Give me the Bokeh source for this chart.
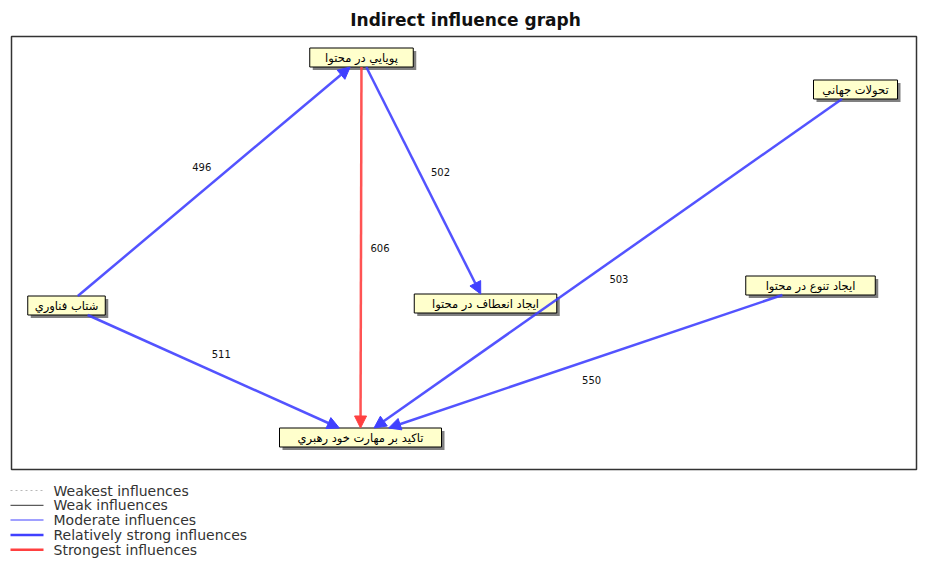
import math
from bokeh.plotting import figure
from bokeh.models import Range1d, ColumnDataSource, Arrow, NormalHead
from bokeh.core.properties import value
from bokeh.embed import file_html
from bokeh.resources import INLINE

# ---------------- data ----------------
title_text = "Indirect influence graph"
node_names = ["پویایي در محتوا", "تحولات جهاني", "شتاب فناوري",
              "ایجاد انعطاف در محتوا", "ایجاد تنوع در محتوا", "تاکید بر مهارت خود رهبري"]
node_x = [361, 855, 66, 485, 810, 360]
node_y = [57, 89, 305, 303, 285, 437]
edge_source = [2, 0, 0, 1, 2, 4]
edge_target = [0, 5, 3, 5, 5, 5]
edge_weight = [496, 606, 502, 503, 511, 550]
edge_class = [3, 4, 3, 3, 3, 3]
legend_labels = ["Weakest influences", "Weak influences", "Moderate influences",
                 "Relatively strong influences", "Strongest influences"]

# ---------------- styles ----------------
class_color = ["#b8b8b8", "#333333", "#8080ff", "#4040ff", "#ff4040"]
class_width = [1, 1, 1.5, 2.5, 2.5]
class_dash = ["2 3", "solid", "solid", "solid", "solid"]

W, H = 918, 560
p = figure(width=W, height=H, output_backend="svg", toolbar_location=None,
           x_range=Range1d(0, W), y_range=Range1d(H, 0),
           x_axis_type=None, y_axis_type=None, min_border=0,
           outline_line_color=None, background_fill_color="white")
p.grid.visible = False

# title
p.text(x=[465], y=[19], text=[title_text], text_font=value("DejaVu Sans"),
       text_font_size="17px", text_font_style="bold", text_align="center",
       text_baseline="middle", text_color="#111111")

# frame
p.quad(left=[11], right=[916], top=[36], bottom=[469], fill_color=None,
       line_color="#333333", line_width=1.5)

# node box sizes
hh = 9.5
hw = [len(n) * 3.25 + 3 for n in node_names]

# edges
lab_x, lab_y, lab_t = [], [], []
for s, t, w, c in zip(edge_source, edge_target, edge_weight, edge_class):
    x0, y0, x1, y1 = node_x[s], node_y[s], node_x[t], node_y[t]
    dx, dy = x1 - x0, y1 - y0
    ts = min(hw[s] / abs(dx) if dx else 1e9, hh / abs(dy) if dy else 1e9)
    tt = min(hw[t] / abs(dx) if dx else 1e9, hh / abs(dy) if dy else 1e9)
    xs, ys = x0 + ts * dx, y0 + ts * dy
    xe, ye = x1 - tt * dx, y1 - tt * dy
    src = ColumnDataSource(dict(x0=[xs], y0=[ys], x1=[xe], y1=[ye]))
    p.add_layout(Arrow(x_start="x0", y_start="y0", x_end="x1", y_end="y1", source=src,
                       line_color=class_color[c], line_width=class_width[c], line_alpha=0.9,
                       end=NormalHead(size=12, fill_color=class_color[c],
                                      line_color=class_color[c], line_width=1)))
    L = math.hypot(dx, dy)
    px, py = dy / L, -dx / L
    lab_x.append((x0 + x1) / 2 + 19 * px)
    lab_y.append((y0 + y1) / 2 + 19 * py)
    lab_t.append(str(w))

p.text(x=lab_x, y=lab_y, text=lab_t, text_font=value("DejaVu Sans"),
       text_font_size="10px", text_align="center", text_baseline="middle",
       text_color="#111111")

# node boxes with shadow
left = [x - w for x, w in zip(node_x, hw)]
right = [x + w for x, w in zip(node_x, hw)]
top = [y - hh for y in node_y]
bot = [y + hh for y in node_y]
p.quad(left=[v + 3 for v in left], right=[v + 3 for v in right],
       top=[v + 3 for v in top], bottom=[v + 3 for v in bot],
       fill_color="#555555", fill_alpha=0.75, line_color=None)
p.quad(left=left, right=right, top=top, bottom=bot,
       fill_color="#ffffcc", line_color="#000000", line_width=1)
p.text(x=node_x, y=[y + 0.5 for y in node_y], text=node_names,
       text_font=value("DejaVu Sans"), text_font_size="11.5px",
       text_align="center", text_baseline="middle", text_color="#000000")

# legend
ly = [490 + 14.8 * i for i in range(len(legend_labels))]
for i, lab in enumerate(legend_labels):
    p.line(x=[10, 43], y=[ly[i], ly[i]], line_color=class_color[i],
           line_width=class_width[i], line_dash=class_dash[i])
p.text(x=[53] * len(legend_labels), y=ly, text=legend_labels,
       text_font=value("DejaVu Sans"), text_font_size="14px",
       text_align="left", text_baseline="middle", text_color="#333333")

open("out.html", "w").write(file_html(p, INLINE))
